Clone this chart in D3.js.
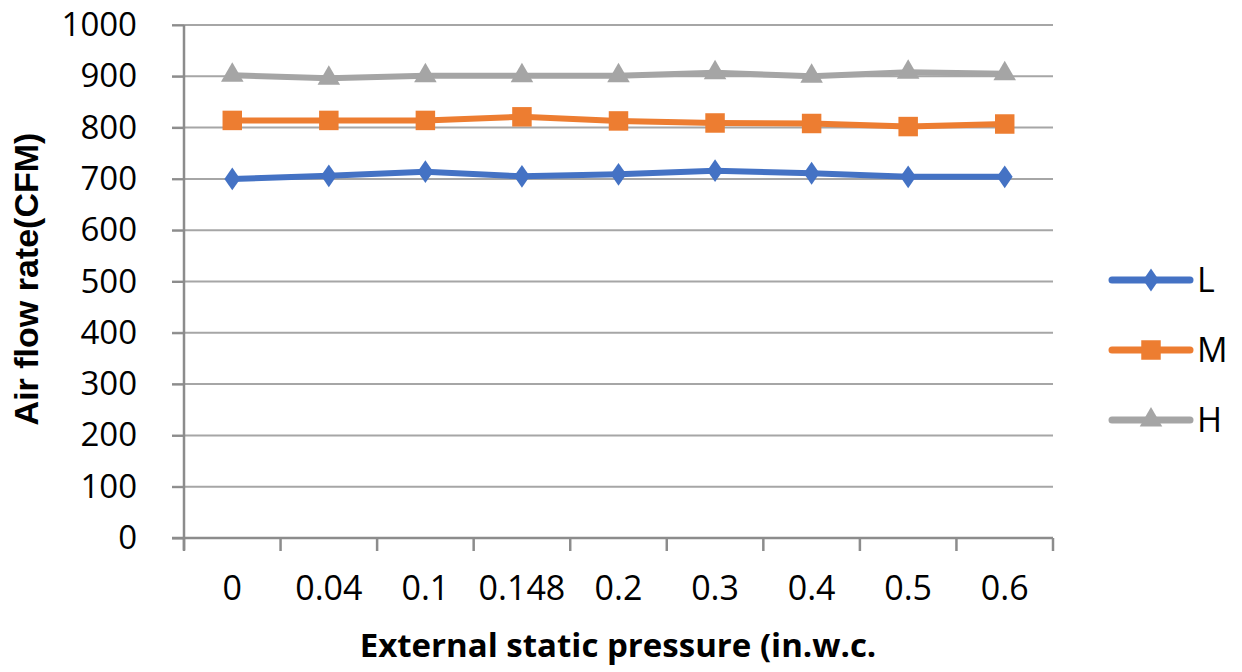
<!DOCTYPE html>
<html>
<head>
<meta charset="utf-8">
<script src="https://cdn.jsdelivr.net/npm/d3@7"></script>
<style>
  body { margin: 0; background: #fff; }
  text { font-family: "Open Sans", sans-serif; fill: #000; }
</style>
</head>
<body>
<div id="chart"></div>
<script>
// pressures (in.w.c.) and air flow (CFM)
const categories = ["0", "0.04", "0.1", "0.148", "0.2", "0.3", "0.4", "0.5", "0.6"];
const lowValues = [700, 706, 714, 705, 709, 716, 711, 704, 704];
const medValues = [814, 814, 814, 821, 813, 809, 808, 802, 807];
const highValues = [902, 896, 901, 901, 901, 907, 900, 908, 905];
const seriesNames = ["L", "M", "H"];
const yTicks = [0, 100, 200, 300, 400, 500, 600, 700, 800, 900, 1000];

let W = 1242, H = 672;
let plotLeft = 184, plotRight = 1053, plotTop = 25, plotBottom = 538;

let svg = d3.select("#chart").append("svg")
    .attr("width", W).attr("height", H);

let xScale = d3.scaleBand().domain(categories).range([plotLeft, plotRight]);
let yScale = d3.scaleLinear().domain([0, 1000]).range([plotBottom, plotTop]);

// gridlines
svg.append("g")
    .selectAll("line").data(yTicks).enter().append("line")
    .attr("x1", plotLeft - 12).attr("x2", plotRight)
    .attr("y1", d => yScale(d)).attr("y2", d => yScale(d))
    .style("stroke", "#a6a6a6").style("stroke-width", 2);

// y axis
let yAxis = svg.append("g")
    .attr("transform", "translate(" + plotLeft + ",0)")
    .call(d3.axisLeft(yScale).tickValues(yTicks).tickFormat(d => d).tickSize(12).tickPadding(35));
yAxis.select(".domain").style("stroke", "#8c8c8c").style("stroke-width", 2.5)
    .attr("d", "M0," + plotTop + "V" + (plotBottom + 12));
yAxis.selectAll(".tick line").style("stroke", "#8c8c8c").style("stroke-width", 2);
yAxis.selectAll("text").style("font-size", "33px").style("font-family", "Open Sans");

// x axis with ticks at band edges
let xg = svg.append("g").attr("transform", "translate(0," + plotBottom + ")");
xg.append("line").attr("x1", plotLeft - 12).attr("x2", plotRight)
    .style("stroke", "#8c8c8c").style("stroke-width", 2.5);
let edges = categories.map(c => xScale(c)).concat([plotRight]);
xg.selectAll(".edge").data(edges).enter().append("line")
    .attr("x1", d => d).attr("x2", d => d).attr("y1", 0).attr("y2", 13)
    .style("stroke", "#8c8c8c").style("stroke-width", 2.5);
xg.selectAll(".lbl").data(categories).enter().append("text")
    .attr("x", d => xScale(d) + xScale.bandwidth() / 2)
    .attr("y", 62)
    .attr("text-anchor", "middle")
    .style("font-size", "34px")
    .text(d => d);

// series
let colors = ["#4472c4", "#ed7d31", "#a5a5a5"];
let symbols = [d3.symbolDiamond, d3.symbolSquare, d3.symbolTriangle];
let symSizes = [150, 380, 220];
let allSeries = [lowValues, medValues, highValues];

let line = d3.line()
    .x((d, i) => xScale(categories[i]) + xScale.bandwidth() / 2)
    .y(d => yScale(d));

allSeries.forEach(function(vals, k) {
    svg.append("path").datum(vals)
        .attr("d", line)
        .style("fill", "none")
        .style("stroke", colors[k])
        .style("stroke-width", 6)
        .style("stroke-linejoin", "round");
    svg.append("g").selectAll("path").data(vals).enter().append("path")
        .attr("transform", (d, i) => "translate(" + (xScale(categories[i]) + xScale.bandwidth() / 2) + "," + yScale(d) + ")" + (k == 0 ? " scale(1.2,1)" : ""))
        .attr("d", d3.symbol().type(symbols[k]).size(symSizes[k]))
        .style("fill", colors[k]);
});

// legend
let legY = [280, 350, 420];
seriesNames.forEach(function(name, k) {
    let g = svg.append("g").attr("transform", "translate(0," + legY[k] + ")");
    g.append("line").attr("x1", 1112).attr("x2", 1190)
        .style("stroke", colors[k]).style("stroke-width", 7)
        .style("stroke-linecap", "round");
    g.append("path")
        .attr("transform", "translate(1151,0)" + (k == 0 ? " scale(1.2,1)" : ""))
        .attr("d", d3.symbol().type(symbols[k]).size(symSizes[k]))
        .style("fill", colors[k]);
    g.append("text").attr("x", 1197).attr("y", 12)
        .style("font-size", "34px").text(name);
});

// axis titles
svg.append("text")
    .attr("x", 618).attr("y", 657)
    .attr("text-anchor", "middle")
    .style("font-size", "33px").style("font-weight", "bold")
    .text("External static pressure (in.w.c.");

svg.append("text")
    .attr("transform", "translate(38,279) rotate(-90)")
    .attr("text-anchor", "middle")
    .style("font-family", "Liberation Sans")
    .style("font-size", "34px").style("font-weight", "bold")
    .text("Air flow rate(CFM)");
</script>
</body>
</html>
